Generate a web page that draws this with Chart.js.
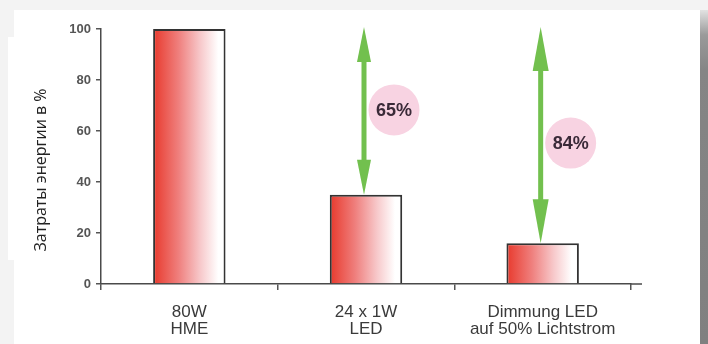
<!DOCTYPE html>
<html>
<head>
<meta charset="utf-8">
<script src="https://cdn.jsdelivr.net/npm/chart.js@4/dist/chart.umd.min.js"></script>
<style>
  html, body { margin: 0; padding: 0; }
  body { width: 708px; height: 344px; background: #f3f3f3; position: relative; overflow: hidden; }
  #card { position: absolute; left: 14px; top: 10px; width: 686px; height: 334px; background: #ffffff; }
  #labelbox { position: absolute; left: 8px; top: 37px; width: 52px; height: 223px; background: #ffffff; }
  #edge { position: absolute; left: 700px; top: 10px; width: 8px; height: 334px;
          background: linear-gradient(to bottom, #e2e2e2 0px, #9a9a9a 25px, #858585 60px, #808080 100%); }
  #wrap { position: absolute; left: 0; top: 0; width: 708px; height: 344px; }
</style>
</head>
<body>
<div id="card"></div>
<div id="labelbox"></div>
<div id="edge"></div>
<div id="wrap"><canvas id="c" width="708" height="344"></canvas></div>
<script>
// ---- data ----
const categories = [["80W", "HME"], ["24 x 1W", "LED"], ["Dimmung LED", "auf 50% Lichtstrom"]];
const energyValues = [100, 35, 16];
const savingsLabels = ["", "65%", "84%"];
const yTicks = [0, 20, 40, 60, 80, 100];
const yAxisTitle = "Затраты энергии в %";

const AREA_LEFT = 101, AREA_RIGHT = 631, AREA_TOP = 29, AREA_BOTTOM = 284;
const BAR_PCT = 0.41;

function barGradient(context) {
  const chart = context.chart;
  const xs = chart.scales && chart.scales.x;
  if (!xs || context.dataIndex === undefined) return '#f08a8a';
  const cx = xs.getPixelForValue(context.dataIndex);
  const w = BAR_PCT * (xs.width / categories.length);
  const x0 = cx - w / 2;
  if (!isFinite(x0) || !isFinite(w) || w <= 0) return '#f08a8a';
  const g = chart.ctx.createLinearGradient(x0, 0, x0 + w, 0);
  g.addColorStop(0, '#e8392c');
  g.addColorStop(0.35, '#ef7f7d');
  g.addColorStop(0.65, '#f7c8ca');
  g.addColorStop(0.9, '#ffffff');
  g.addColorStop(1, '#ffffff');
  return g;
}

const annotationsPlugin = {
  id: 'annot',
  afterDatasetsDraw(chart) {
    const ctx = chart.ctx;
    const x = chart.scales.x, y = chart.scales.y;
    const base = energyValues[0];
    ctx.save();
    for (let i = 1; i < energyValues.length; i++) {
      const cx = x.getPixelForValue(i) - 2;
      const yTop = y.getPixelForValue(base) - 2;
      const yBot = y.getPixelForValue(energyValues[i]);
      const headH = i === 1 ? 35 : 44;
      const headW = i === 1 ? 7 : 8;
      const midV = (base + energyValues[i]) / 2;
      const ccx = cx + 30;
      const ccy = y.getPixelForValue(midV) + (i === 2 ? 7 : -2);
      ctx.fillStyle = '#f8d3e2';
      ctx.beginPath();
      ctx.arc(ccx, ccy, 25.5, 0, Math.PI * 2);
      ctx.fill();
      ctx.fillStyle = '#3a2a38';
      ctx.font = 'bold 18px "Liberation Sans", Arial, sans-serif';
      ctx.textAlign = 'center';
      ctx.textBaseline = 'middle';
      ctx.fillText(savingsLabels[i], ccx, ccy + 1);
      ctx.fillStyle = '#72c04e';
      ctx.fillRect(cx - 2.5, yTop + headH - 4, 5, (yBot - headH + 4) - (yTop + headH - 4));
      ctx.beginPath();
      ctx.moveTo(cx, yTop);
      ctx.lineTo(cx + headW, yTop + headH);
      ctx.lineTo(cx - headW, yTop + headH);
      ctx.closePath();
      ctx.fill();
      ctx.beginPath();
      ctx.moveTo(cx, yBot);
      ctx.lineTo(cx + headW, yBot - headH);
      ctx.lineTo(cx - headW, yBot - headH);
      ctx.closePath();
      ctx.fill();
    }
    ctx.restore();
  },
  afterDraw(chart) {
    const ctx = chart.ctx;
    const a = chart.chartArea;
    ctx.save();
    ctx.strokeStyle = '#4a4a4a';
    ctx.lineWidth = 1.5;
    ctx.beginPath();
    ctx.moveTo(a.right - 1, a.bottom);
    ctx.lineTo(a.right + 11, a.bottom);
    ctx.stroke();
    ctx.translate(41, 170);
    ctx.rotate(-Math.PI / 2);
    ctx.fillStyle = '#222';
    ctx.font = '16px "Open Sans", "DejaVu Sans", sans-serif';
    ctx.textAlign = 'center';
    ctx.textBaseline = 'middle';
    ctx.fillText(yAxisTitle, 0, 0);
    ctx.restore();
  }
};

const ctx = document.getElementById('c').getContext('2d');

new Chart(ctx, {
  type: 'bar',
  data: {
    labels: categories,
    datasets: [{
      data: energyValues,
      backgroundColor: barGradient,
      borderColor: '#333333',
      borderWidth: 2,
      borderSkipped: 'bottom',
      barPercentage: BAR_PCT,
      categoryPercentage: 1.0
    }]
  },
  options: {
    responsive: false,
    animation: false,
    devicePixelRatio: 1,
    layout: { padding: { top: AREA_TOP, right: 708 - AREA_RIGHT, left: 0, bottom: 0 } },
    plugins: { legend: { display: false }, tooltip: { enabled: false } },
    scales: {
      x: {
        offset: true,
        afterFit(s) { s.height = 344 - AREA_BOTTOM; },
        grid: { display: true, drawOnChartArea: false, drawTicks: true, offset: true, tickLength: 6, color: '#555', lineWidth: 1.5 },
        border: { display: true, color: '#4a4a4a', width: 1.5 },
        ticks: {
          color: '#3a3a3a',
          padding: 13,
          maxRotation: 0,
          autoSkip: false,
          font: { family: '"Liberation Sans", Arial, sans-serif', size: 17, lineHeight: 1.04 }
        }
      },
      y: {
        min: 0, max: 100,
        afterFit(s) { s.width = AREA_LEFT; },
        afterBuildTicks(s) { s.ticks = yTicks.map(v => ({ value: v })); },
        grid: { display: true, drawOnChartArea: false, drawTicks: true, tickLength: 5, color: '#555', lineWidth: 1.5 },
        border: { display: true, color: '#4a4a4a', width: 1.5 },
        ticks: {
          color: '#555',
          padding: 5,
          font: { family: '"Liberation Sans", Arial, sans-serif', size: 13, weight: 'bold' }
        }
      }
    }
  },
  plugins: [annotationsPlugin]
});
</script>
</body>
</html>
